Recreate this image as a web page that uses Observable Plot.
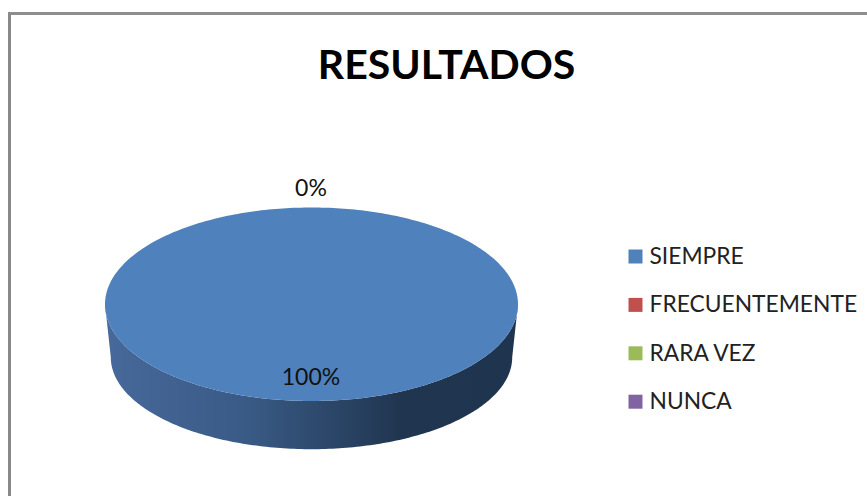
<!DOCTYPE html>
<html lang="es">
<head>
<meta charset="utf-8">
<script src="https://cdn.jsdelivr.net/npm/d3@7"></script>
<script src="https://cdn.jsdelivr.net/npm/@observablehq/plot@0.6"></script>
<style>
  html, body { margin: 0; padding: 0; background: #fff; overflow: hidden; }
  #wrap { position: relative; width: 867px; height: 496px; }
  #edge { position: absolute; left: 8px; top: 12px; right: 0; bottom: 0;
          border-left: 3px solid #888; border-top: 3px solid #8e8e8e; pointer-events: none; }
  svg { display: block; }
</style>
</head>
<body>
<div id="wrap"><div id="edge"></div></div>
<script>
const chartTitle = "RESULTADOS";
const categories = ["SIEMPRE", "FRECUENTEMENTE", "RARA VEZ", "NUNCA"];
const values = [100, 0, 0, 0];
const colors = ["#4f81bd", "#c0504d", "#9bbb59", "#8064a2"];

const font = "Lato, Carlito, sans-serif";
const pie = d3.pie().sort(null).value(d => d.value)(
  categories.map((category, i) => ({category, value: values[i]}))
);
const total = d3.sum(values);

// Points around the rim of each slice, on a unit circle seen from above.
const rim = pie.filter(s => s.value > 0).flatMap(s =>
  d3.range(0, 361).map(k => {
    const a = s.startAngle + (s.endAngle - s.startAngle) * k / 360;
    return {category: s.data.category, x: Math.sin(a), y: Math.cos(a)};
  })
);
// Lower half of the rim, for the wall of the disc.
const wall = d3.range(0, 181).map(k => {
  const a = Math.PI * k / 180;
  return {x: -Math.cos(a), y: -Math.sin(a)};
});
const wallScale = {rx: 0.972, ry: 0.95, drop: 0.548};

// One "0%" is visible because the empty slices share one position.
const labels = pie.filter((s, i) => s.value > 0 || i === 1).map(s => {
  const a = (s.startAngle + s.endAngle) / 2;
  const r = s.value > 0 ? 0.754 : 1.2;
  return {x: Math.sin(a) * r, y: Math.cos(a) * r, text: Math.round(100 * s.value / total) + "%"};
});

const gradient = () => {
  const defs = d3.create("svg:defs");
  const g = defs.append("linearGradient").attr("id", "wall-shade");
  [[0, "#47699b"], [0.35, "#395a85"], [0.72, "#20354f"], [1, "#1f344e"]].forEach(([o, c]) =>
    g.append("stop").attr("offset", o).attr("stop-color", c));
  return defs.node();
};

const chart = Plot.plot({
  width: 867, height: 496,
  margin: 0,
  style: {background: "transparent"},
  x: {domain: [-1, 1], range: [105, 518], axis: null},
  y: {domain: [-1, 1], range: [401, 207.5], axis: null},
  color: {domain: categories, range: colors},
  marks: [
    gradient,
    Plot.area(wall, {
      x1: d => d.x,
      y1: d => d.y,
      x2: d => d.x * wallScale.rx,
      y2: d => d.y * wallScale.ry - wallScale.drop,
      fill: "url(#wall-shade)"
    }),
    Plot.area(rim, {
      x1: "x", y1: "y", x2: () => 0, y2: () => 0,
      fill: "category", z: "category"
    }),
    Plot.text(labels, {
      x: "x", y: "y", text: "text", dx: -1,
      fontFamily: font, fontSize: 23, fill: "#111", lineAnchor: "middle"
    }),
    Plot.text([chartTitle], {
      frameAnchor: "top-left", dx: 446, dy: 65, text: d => d,
      textAnchor: "middle", lineAnchor: "middle",
      fontFamily: font, fontWeight: 700, fontSize: 41, fill: "#000"
    }),
    ...categories.flatMap((c, i) => {
      const dy = 256 + 48.4 * i;
      return [
        Plot.dot([c], {frameAnchor: "top-left", dx: 635, dy, symbol: "square", r: 7.9, fill: d => d}),
        Plot.text([c], {
          frameAnchor: "top-left", dx: 649, dy, text: d => d,
          textAnchor: "start", lineAnchor: "middle",
          fontFamily: font, fontSize: 22.8, fill: "#222"
        })
      ];
    })
  ]
});
document.getElementById("wrap").prepend(chart);
</script>
</body>
</html>
